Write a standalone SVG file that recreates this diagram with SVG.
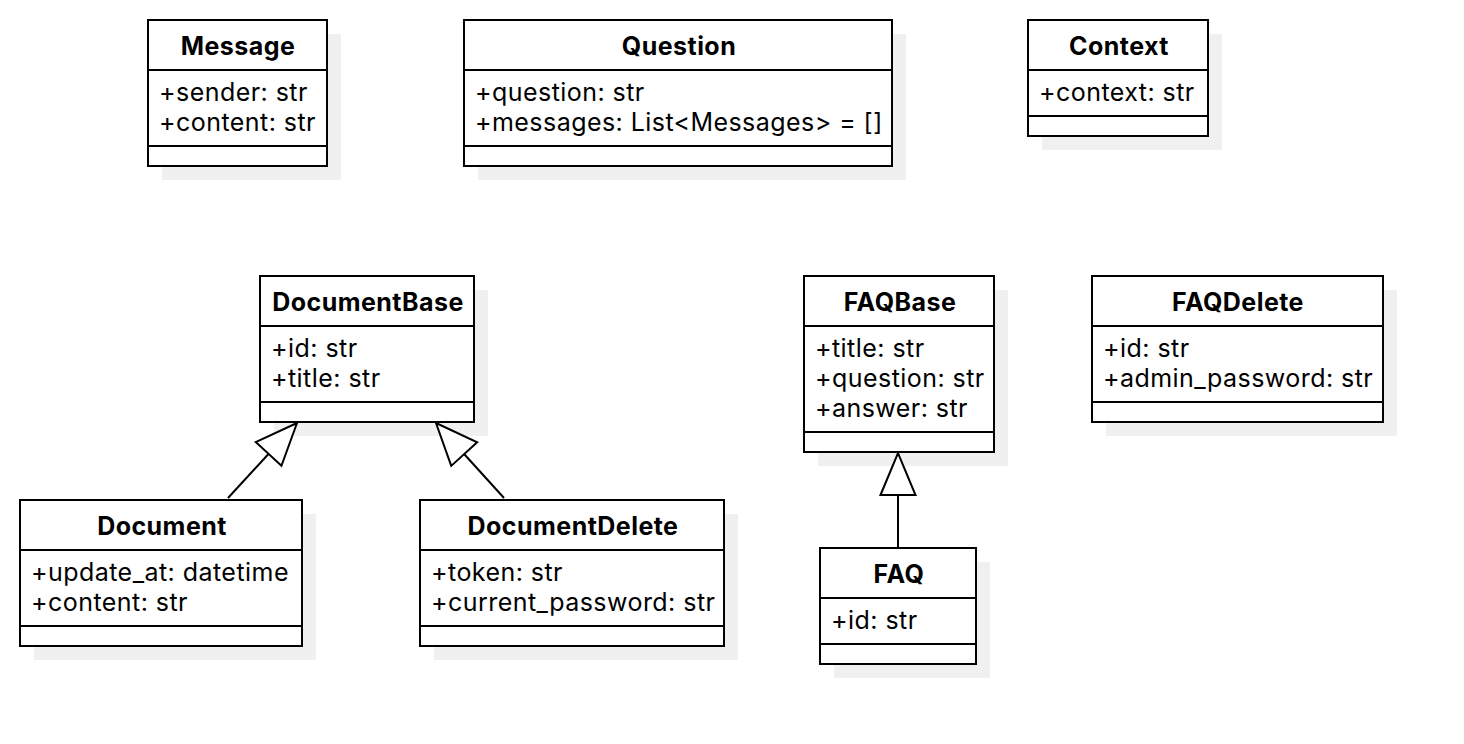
<svg xmlns="http://www.w3.org/2000/svg" width="1464" height="744" viewBox="0 0 1464 744">
<style>
.sh{fill:#f0f0f0;stroke:none}
.bx{fill:#ffffff;stroke:#000;stroke-width:2}
.ln{stroke:#000;stroke-width:2;fill:none}
.hd{font-family:Inter,"Noto Sans",sans-serif;font-weight:bold;font-size:25px;letter-spacing:0.45px;text-anchor:middle;fill:#000}
.at{font-family:Inter,"Noto Sans",sans-serif;font-size:25px;letter-spacing:0.45px;fill:#000}
</style>
<defs>
<marker id="tri" markerUnits="userSpaceOnUse" viewBox="-2 -2 46 40" refX="42" refY="18" markerWidth="46" markerHeight="40" orient="auto" overflow="visible">
<path d="M0,0.5 L42,18 L0,35.5 Z" fill="#fff" stroke="#000" stroke-width="2"/>
</marker>
</defs>
<rect width="1464" height="744" fill="#fff"/>

<g id="Message">
<rect class="sh" x="162" y="34" width="179" height="146"/>
<rect class="bx" x="148" y="20" width="179" height="146"/>
<line class="ln" x1="148" y1="70" x2="327" y2="70"/>
<line class="ln" x1="148" y1="146" x2="327" y2="146"/>
<text class="hd" x="238" y="55">Message</text>
<text class="at" x="159" y="101">+sender: str</text>
<text class="at" x="159" y="131">+content: str</text>
</g>

<g id="Question">
<rect class="sh" x="478" y="34" width="428" height="146"/>
<rect class="bx" x="464" y="20" width="428" height="146"/>
<line class="ln" x1="464" y1="70" x2="892" y2="70"/>
<line class="ln" x1="464" y1="146" x2="892" y2="146"/>
<text class="hd" x="679" y="55">Question</text>
<text class="at" x="475" y="101">+question: str</text>
<text class="at" x="475" y="131">+messages: List&lt;Messages&gt; = []</text>
</g>

<g id="Context">
<rect class="sh" x="1042" y="34" width="180" height="116"/>
<rect class="bx" x="1028" y="20" width="180" height="116"/>
<line class="ln" x1="1028" y1="70" x2="1208" y2="70"/>
<line class="ln" x1="1028" y1="116" x2="1208" y2="116"/>
<text class="hd" x="1119" y="55">Context</text>
<text class="at" x="1039" y="101">+context: str</text>
</g>

<g id="DocumentBase">
<rect class="sh" x="274" y="290" width="214" height="146"/>
<rect class="bx" x="260" y="276" width="214" height="146"/>
<line class="ln" x1="260" y1="326" x2="474" y2="326"/>
<line class="ln" x1="260" y1="402" x2="474" y2="402"/>
<text class="hd" x="368" y="311">DocumentBase</text>
<text class="at" x="271" y="357">+id: str</text>
<text class="at" x="271" y="387">+title: str</text>
</g>

<g id="FAQBase">
<rect class="sh" x="818" y="290" width="190" height="176"/>
<rect class="bx" x="804" y="276" width="190" height="176"/>
<line class="ln" x1="804" y1="326" x2="994" y2="326"/>
<line class="ln" x1="804" y1="432" x2="994" y2="432"/>
<text class="hd" x="900" y="311">FAQBase</text>
<text class="at" x="815" y="357">+title: str</text>
<text class="at" x="815" y="387">+question: str</text>
<text class="at" x="815" y="417">+answer: str</text>
</g>

<g id="FAQDelete">
<rect class="sh" x="1106" y="290" width="291" height="146"/>
<rect class="bx" x="1092" y="276" width="291" height="146"/>
<line class="ln" x1="1092" y1="326" x2="1383" y2="326"/>
<line class="ln" x1="1092" y1="402" x2="1383" y2="402"/>
<text class="hd" x="1238" y="311">FAQDelete</text>
<text class="at" x="1103" y="357">+id: str</text>
<text class="at" x="1103" y="387">+admin_password: str</text>
</g>

<g id="Document">
<rect class="sh" x="34" y="514" width="282" height="146"/>
<rect class="bx" x="20" y="500" width="282" height="146"/>
<line class="ln" x1="20" y1="550" x2="302" y2="550"/>
<line class="ln" x1="20" y1="626" x2="302" y2="626"/>
<text class="hd" x="162" y="535">Document</text>
<text class="at" x="31" y="581">+update_at: datetime</text>
<text class="at" x="31" y="611">+content: str</text>
</g>

<g id="DocumentDelete">
<rect class="sh" x="434" y="514" width="304" height="146"/>
<rect class="bx" x="420" y="500" width="304" height="146"/>
<line class="ln" x1="420" y1="550" x2="724" y2="550"/>
<line class="ln" x1="420" y1="626" x2="724" y2="626"/>
<text class="hd" x="573" y="535">DocumentDelete</text>
<text class="at" x="431" y="581">+token: str</text>
<text class="at" x="431" y="611">+current_password: str</text>
</g>

<g id="FAQ">
<rect class="sh" x="834" y="562" width="156" height="116"/>
<rect class="bx" x="820" y="548" width="156" height="116"/>
<line class="ln" x1="820" y1="598" x2="976" y2="598"/>
<line class="ln" x1="820" y1="644" x2="976" y2="644"/>
<text class="hd" x="899" y="583">FAQ</text>
<text class="at" x="831" y="629">+id: str</text>
</g>

<g id="connectors">
<line class="ln" x1="228" y1="498" x2="297" y2="423" marker-end="url(#tri)"/>
<line class="ln" x1="504" y1="498" x2="436" y2="423" marker-end="url(#tri)"/>
<line class="ln" x1="898" y1="548" x2="898" y2="453" marker-end="url(#tri)"/>
</g>
</svg>
